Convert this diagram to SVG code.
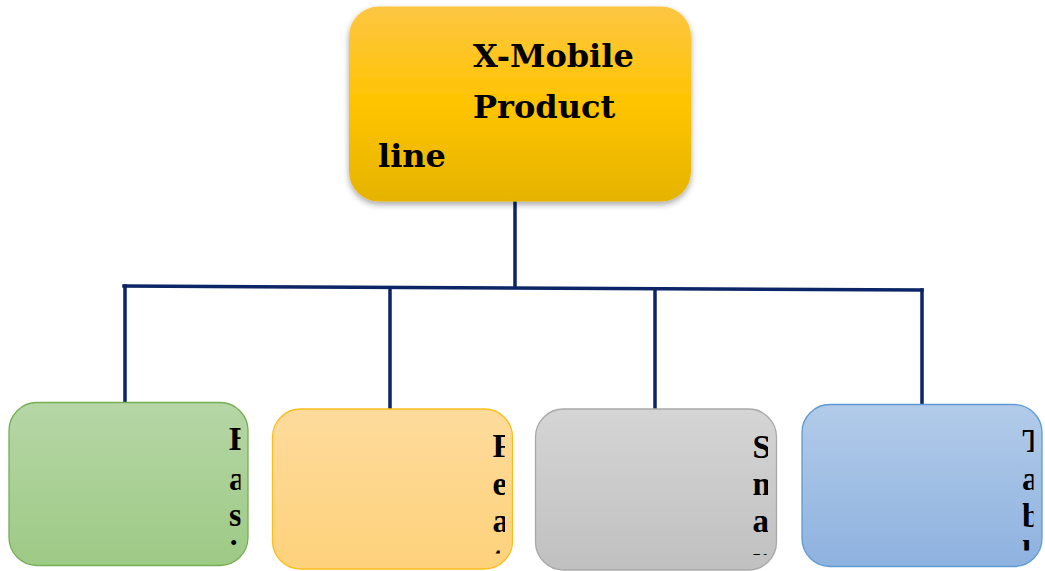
<svg xmlns="http://www.w3.org/2000/svg" width="1045" height="571" viewBox="0 0 1045 571">
<defs>
<linearGradient id="gTop" x1="0" y1="0" x2="0" y2="1">
<stop offset="0" stop-color="#fdc643"/><stop offset="0.5" stop-color="#ffc400"/><stop offset="1" stop-color="#e5b302"/>
</linearGradient>
<linearGradient id="gGreen" x1="0" y1="0" x2="0" y2="1"><stop offset="0" stop-color="#b6d6a6"/><stop offset="1" stop-color="#9dca85"/></linearGradient>
<linearGradient id="gOrange" x1="0" y1="0" x2="0" y2="1"><stop offset="0" stop-color="#fedb9c"/><stop offset="1" stop-color="#fed27b"/></linearGradient>
<linearGradient id="gGray" x1="0" y1="0" x2="0" y2="1"><stop offset="0" stop-color="#d5d5d5"/><stop offset="1" stop-color="#c0c0c0"/></linearGradient>
<linearGradient id="gBlue" x1="0" y1="0" x2="0" y2="1"><stop offset="0" stop-color="#b2cbe9"/><stop offset="1" stop-color="#8eb2df"/></linearGradient>
<filter id="shadow" x="-10%" y="-10%" width="120%" height="130%"><feDropShadow dx="0" dy="3" stdDeviation="3" flood-color="#000" flood-opacity="0.35"/></filter>
<clipPath id="c1"><rect x="229" y="420" width="11.5" height="128"/></clipPath>
<clipPath id="c2"><rect x="492.5" y="425" width="12.5" height="128.5"/></clipPath>
<clipPath id="c3"><rect x="752.5" y="425" width="15.5" height="130"/></clipPath>
<clipPath id="c4"><rect x="1022.5" y="420" width="11" height="130.5"/></clipPath>
</defs>
<style>
.conn{fill:none;stroke:#0b2566;stroke-width:3.5;stroke-linecap:square}
.top{font-family:"DejaVu Serif","Liberation Serif",serif;font-weight:bold;font-size:32px;fill:#000}
.lbl{font-family:"Liberation Serif",serif;font-weight:bold;font-size:33px;fill:#000}
</style>
<g id="connectors">
<path class="conn" d="M515,203 V286"/>
<path class="conn" d="M124,286 L922,290"/>
<path class="conn" d="M125,286 V401"/>
<path class="conn" d="M390,288 V408"/>
<path class="conn" d="M655,289 V408"/>
<path class="conn" d="M922,290 V403"/>
</g>
<g id="node-top">
<rect x="349" y="6.5" width="342" height="195" rx="30" fill="url(#gTop)" filter="url(#shadow)"/>
<text class="top" x="473" y="67">X-Mobile</text>
<text class="top" x="473" y="118">Product</text>
<text class="top" x="378" y="167">line</text>
</g>
<g id="node-basic">
<rect x="9" y="402.5" width="239" height="163" rx="28" fill="url(#gGreen)" stroke="#76ae55" stroke-width="1.3"/>
<text class="lbl" clip-path="url(#c1)" x="229" y="450">B<tspan x="229" y="490">a</tspan><tspan x="229" y="526">s</tspan><tspan x="229" y="564">i</tspan></text>
</g>
<g id="node-feature">
<rect x="272.5" y="409" width="240" height="160" rx="28" fill="url(#gOrange)" stroke="#fbbf1c" stroke-width="1.3"/>
<text class="lbl" clip-path="url(#c2)" x="492.5" y="457">F<tspan x="492.5" y="495">e</tspan><tspan x="492.5" y="532">a</tspan><tspan x="492.5" y="570">t</tspan></text>
</g>
<g id="node-smart">
<rect x="535.5" y="409" width="241" height="161" rx="28" fill="url(#gGray)" stroke="#a9a9a9" stroke-width="1.3"/>
<text class="lbl" clip-path="url(#c3)" x="752.5" y="458">S<tspan x="752.5" y="495">m</tspan><tspan x="752.5" y="532">a</tspan><tspan x="752.5" y="570">r</tspan></text>
</g>
<g id="node-tablet">
<rect x="802" y="404.5" width="240" height="162" rx="28" fill="url(#gBlue)" stroke="#5d9ad3" stroke-width="1.3"/>
<text class="lbl" clip-path="url(#c4)" x="1022" y="452">T<tspan x="1022" y="490">a</tspan><tspan x="1022" y="527">b</tspan><tspan x="1022" y="564">l</tspan></text>
</g>
</svg>
